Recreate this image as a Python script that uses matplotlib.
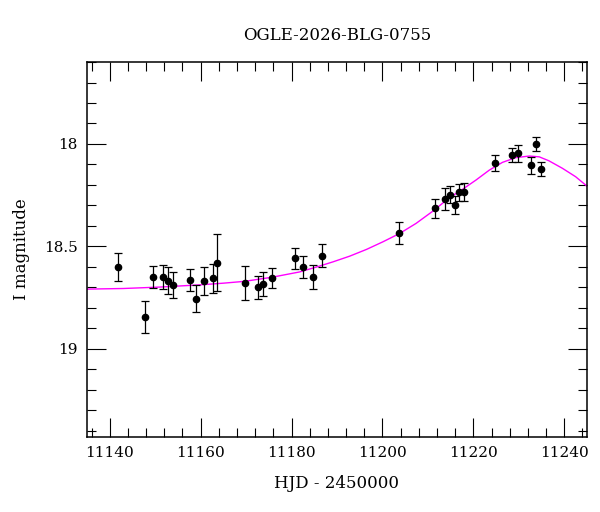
import matplotlib
matplotlib.use("Agg")
import matplotlib.pyplot as plt
from matplotlib.ticker import MultipleLocator

# Observed photometry (HJD - 2450000, I mag, error)
hjd = [11141.9, 11147.7, 11149.6, 11151.7, 11152.9, 11153.9, 11157.7, 11158.9,
       11160.7, 11162.7, 11163.7, 11169.7, 11172.6, 11173.8, 11175.7, 11180.7,
       11182.6, 11184.7, 11186.8, 11203.6, 11211.6, 11213.8, 11214.8, 11215.9,
       11216.9, 11217.85, 11224.7, 11228.6, 11229.8, 11232.6, 11233.7, 11234.8]
mag = [18.60, 18.845, 18.65, 18.65, 18.667, 18.69, 18.665, 18.755,
       18.67, 18.657, 18.58, 18.68, 18.70, 18.686, 18.655, 18.559,
       18.60, 18.65, 18.546, 18.435, 18.315, 18.27, 18.248, 18.297,
       18.236, 18.235, 18.093, 18.054, 18.046, 18.104, 17.998, 18.122]
err = [0.067, 0.077, 0.053, 0.06, 0.068, 0.064, 0.055, 0.065,
       0.068, 0.07, 0.14, 0.082, 0.056, 0.059, 0.05, 0.053,
       0.054, 0.06, 0.057, 0.055, 0.045, 0.053, 0.042, 0.045,
       0.042, 0.042, 0.037, 0.032, 0.041, 0.041, 0.034, 0.034]

# Model curve
model_hjd = [11135.0, 11143.0, 11151.0, 11160.0, 11165.0, 11169.7, 11175.7,
             11181.8, 11185.5, 11189.1, 11192.8, 11196.5, 11200.1, 11203.8,
             11207.4, 11211.1, 11214.7, 11217.6, 11220.6, 11223.5, 11226.4,
             11229.3, 11232.3, 11234.5, 11236.6, 11239.6, 11242.5, 11245.0]
model_mag = [18.709, 18.706, 18.699, 18.688, 18.680, 18.671, 18.651,
             18.625, 18.601, 18.576, 18.548, 18.515, 18.478, 18.437,
             18.388, 18.328, 18.263, 18.222, 18.176, 18.128, 18.090,
             18.067, 18.059, 18.063, 18.082, 18.119, 18.160, 18.206]

title = "OGLE-2026-BLG-0755"
xlabel = "HJD - 2450000"
ylabel = "I magnitude"

plt.rcParams['font.family'] = ['DejaVu Serif']

fig = plt.figure(figsize=(6.0, 5.12), dpi=100)
ax = fig.add_axes([0.145, 0.147, 0.8333, 0.7318])

ax.plot(model_hjd, model_mag, color='#ff00ff', lw=1.0, zorder=2)
ax.errorbar(hjd, mag, yerr=err, fmt='o', color='black', ms=4.5,
            ecolor='black', elinewidth=0.9, capsize=3, capthick=0.9, zorder=3)

ax.set_xlim(11135, 11245)
ax.set_ylim(19.43, 17.6)
ax.xaxis.set_major_locator(MultipleLocator(20))
ax.xaxis.set_minor_locator(MultipleLocator(4))
ax.yaxis.set_major_locator(MultipleLocator(0.5))
ax.yaxis.set_minor_locator(MultipleLocator(0.1))
ax.yaxis.set_major_formatter(matplotlib.ticker.FuncFormatter(lambda v, p: f"{v:g}"))

ax.tick_params(which='both', direction='in', top=True, right=True,
               labelsize=11, color='black', width=0.8)
ax.tick_params(which='major', length=13.5, pad=6.5)
ax.tick_params(which='minor', length=6.8)
for s in ax.spines.values():
    s.set_linewidth(1.1)

ax.set_title(title, fontsize=12, pad=16)
ax.set_xlabel(xlabel, fontsize=12, labelpad=11)
ax.set_ylabel(ylabel, fontsize=12, labelpad=10)

fig.savefig("out.png", dpi=100)
